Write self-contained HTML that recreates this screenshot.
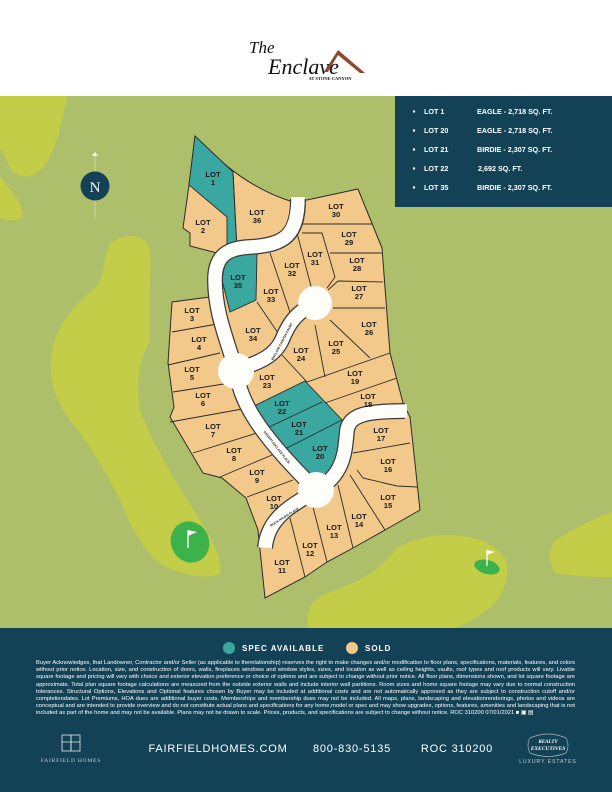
<!DOCTYPE html>
<html><head><meta charset="utf-8"><style>
html,body{margin:0;padding:0;width:612px;height:792px;overflow:hidden;background:#fff}
#w{position:relative;width:612px;height:792px}
svg{position:absolute;left:0;top:0}
.lot{font-family:"Liberation Sans",sans-serif;font-weight:bold;font-size:7.6px;fill:#1a1a1a;text-anchor:middle}
.lg{font-family:"Liberation Sans",sans-serif;font-weight:bold;font-size:7.2px;fill:#fff}
#disc{position:absolute;left:36px;top:660px;width:539px;font-family:"Liberation Sans",sans-serif;font-size:5.75px;line-height:7.2px;color:#fff;text-align:justify}
</style></head><body><div id="w">
<svg width="612" height="792" viewBox="0 0 612 792">
<!-- header logo -->
<text x="249" y="53" font-family="Liberation Serif,serif" font-style="italic" font-size="17" fill="#111">The</text>
<text x="268" y="74" font-family="Liberation Serif,serif" font-style="italic" font-size="22" fill="#111">Enclave</text>
<polygon points="324,72 338,50 365,73 360,73 338,55 328,72" fill="#8b4a2e"/>
<text x="330" y="80" font-family="Liberation Serif,serif" font-size="4.5" font-weight="bold" fill="#111" text-anchor="middle">AT STONE CANYON</text>
<!-- map bg -->
<rect x="0" y="96" width="612" height="532" fill="#adbf6b"/>
<path d="M0,96 L67,96 C62,125 55,150 45,165 C35,178 20,180 12,170 C6,160 3,150 0,149 Z" fill="#c3cd48"/>
<path d="M0,176 C10,190 20,200 23,213 C22,222 12,222 0,218 Z" fill="#c3cd48"/>
<path d="M110,243 C125,234 145,232 150,250 C152,270 148,300 150,340 C140,360 135,380 140,410 C150,440 175,480 200,520 C215,545 225,565 218,575 C200,580 170,572 156,560 C140,545 130,525 120,500 C100,460 85,440 70,420 C55,400 48,380 52,350 C58,320 80,300 97,286 C105,275 104,255 110,243 Z" fill="#c3cd48"/>
<path d="M308,628 C306,612 310,600 330,592 C360,582 380,570 395,550 C410,538 440,532 470,537 C500,545 510,560 507,575 C504,595 495,605 480,615 C470,622 460,626 455,628 Z" fill="#c3cd48"/>
<path d="M612,512 L612,577 C590,577 570,576 555,573 C548,560 548,548 556,540 C575,528 595,518 612,512 Z" fill="#c3cd48"/>
<ellipse cx="190" cy="542" rx="19" ry="21" transform="rotate(-25 190 542)" fill="#3db14a"/>
<line x1="188" y1="530" x2="188" y2="548" stroke="#fff" stroke-width="1.3"/>
<polygon points="188,530 197,532 188,536" fill="#fff"/>
<ellipse cx="487" cy="567" rx="13" ry="7" transform="rotate(15 487 567)" fill="#3db14a"/>
<line x1="487" y1="550" x2="487" y2="566" stroke="#fff" stroke-width="1.2"/>
<polygon points="487,550 495,552 487,555" fill="#fff"/>
<!-- compass -->
<line x1="95" y1="155" x2="95" y2="219" stroke="#d9e0b8" stroke-width="0.7"/>
<polygon points="92,156 95,152 98,156" fill="#fff"/>
<circle cx="95" cy="186" r="14.5" fill="#134257"/>
<text x="95" y="192" font-family="Liberation Serif,serif" font-size="15" fill="#fff" text-anchor="middle">N</text>
<!-- legend box -->
<rect x="395" y="96" width="217" height="111" fill="#134257"/>
<g class="lg">
<circle cx="414" cy="111.5" r="1.2" fill="#fff"/><text x="424" y="114">LOT 1</text><text x="477" y="114">EAGLE - 2,718 SQ. FT.</text>
<circle cx="414" cy="130.5" r="1.2" fill="#fff"/><text x="424" y="133">LOT 20</text><text x="477" y="133">EAGLE - 2,718 SQ. FT.</text>
<circle cx="414" cy="149.5" r="1.2" fill="#fff"/><text x="424" y="152">LOT 21</text><text x="477" y="152">BIRDIE - 2,307 SQ. FT.</text>
<circle cx="414" cy="168.5" r="1.2" fill="#fff"/><text x="424" y="171">LOT 22</text><text x="478" y="171">2,692 SQ. FT.</text>
<circle cx="414" cy="187.5" r="1.2" fill="#fff"/><text x="424" y="190">LOT 35</text><text x="477" y="190">BIRDIE - 2,307 SQ. FT.</text>
</g>
<!-- subdivision -->
<path d="M195,136 Q240,185 290,201 L307,200 L358,189 L382,248 L390,353 L403,403 L410,417 L420,510 L385,530 L353,548 L327,562 L305,577 L265,598 L258,530 L246,498 L222,478 L203,473 L170,417 L174,407 L168,363 L172,302 L217,296 L217,253 L190,246 L190,233 L183,228 L189,185 Z" fill="#f2c98a" stroke="#2b2b2b" stroke-width="1"/>
<g fill="#3aa8a0" stroke="#2b2b2b" stroke-width="0.9">
<polygon points="195,136 233,172 237,250 227,250 227,217 189,185"/>
<polygon points="227,250 257,253 256,300 230,312 222,280"/>
<polygon points="250,408 305,381 347,425 345,465 330,475 298,477"/>
</g>
<g stroke="#2b2b2b" stroke-width="0.9" fill="none">
<line x1="233" y1="172" x2="237" y2="250"/>
<line x1="303" y1="224" x2="372" y2="224"/>
<line x1="330" y1="253" x2="382" y2="253"/>
<polyline points="302,233 322,233 335,277 327,288"/>
<line x1="270" y1="253" x2="292" y2="318"/>
<line x1="297" y1="233" x2="312" y2="290"/>
<polyline points="383,282 338,281 328,290"/>
<line x1="333" y1="308" x2="385" y2="308"/>
<line x1="330" y1="320" x2="370" y2="358"/>
<line x1="315" y1="325" x2="325" y2="377"/>
<line x1="257" y1="302" x2="278" y2="333"/>
<line x1="282" y1="355" x2="307" y2="382"/>
<line x1="307" y1="382" x2="390" y2="353"/>
<line x1="325" y1="403" x2="397" y2="378"/>
<line x1="267" y1="428" x2="322" y2="402"/>
<line x1="283" y1="450" x2="342" y2="420"/>
<line x1="172" y1="332" x2="223" y2="323"/>
<line x1="168" y1="365" x2="220" y2="353"/>
<line x1="173" y1="392" x2="230" y2="383"/>
<line x1="170" y1="422" x2="248" y2="408"/>
<line x1="193" y1="453" x2="257" y2="433"/>
<line x1="220" y1="477" x2="272" y2="455"/>
<line x1="247" y1="497" x2="293" y2="480"/>
<line x1="353" y1="453" x2="410" y2="443"/>
<polyline points="357,470 363,478 397,486 417,487"/>
<line x1="350" y1="475" x2="385" y2="530"/>
<line x1="338" y1="485" x2="353" y2="548"/>
<line x1="313" y1="507" x2="327" y2="562"/>
<line x1="290" y1="518" x2="305" y2="577"/>
</g>
<!-- roads -->
<g fill="none" stroke-linecap="butt" stroke-linejoin="round">
<g stroke="#3a3a3a" stroke-width="16">
<path d="M298,199 C298,235 285,245 250,247 C225,248 215,258 215,280 C215,310 225,335 236,370 C240,400 255,430 316,490 C345,475 345,450 347,430 C350,415 365,411 405,411"/>
<path d="M316,490 C295,505 268,515 265,548"/>
<path d="M236,370 C262,362 275,355 282,340 C290,320 298,312 315,303"/>
</g>
<g stroke="#fdfdf9" stroke-width="13.5">
<path d="M298,197 C298,235 285,245 250,247 C225,248 215,258 215,280 C215,310 225,335 236,370 C240,400 255,430 316,490 C345,475 345,450 347,430 C350,415 365,411 407,411"/>
<path d="M316,490 C295,505 268,515 265,548"/>
<path d="M236,370 C262,362 275,355 282,340 C290,320 298,312 315,303"/>
</g>
</g>
<circle cx="236" cy="371" r="18" fill="#fdfdf9"/>
<circle cx="316" cy="490" r="18" fill="#fdfdf9"/>
<circle cx="315" cy="303" r="17" fill="#fdfdf9"/>
<g font-family="Liberation Sans,sans-serif" font-size="3.2" font-weight="bold" fill="#222" text-anchor="middle">
<text transform="translate(283,342) rotate(-62)">ENCLAVE CANYON COURT</text>
<text transform="translate(276,448) rotate(52)">DESERT ENCLAVE PLACE</text>
<text transform="translate(285,518) rotate(-32)">ROCK HAVEN PLACE</text>
</g>
<!-- lot labels -->
<g class="lot">
<text x="213" y="177">LOT<tspan x="213" dy="8">1</tspan></text>
<text x="203" y="225">LOT<tspan x="203" dy="8">2</tspan></text>
<text x="257" y="215">LOT<tspan x="257" dy="8">36</tspan></text>
<text x="336" y="209">LOT<tspan x="336" dy="8">30</tspan></text>
<text x="349" y="237">LOT<tspan x="349" dy="8">29</tspan></text>
<text x="357" y="263">LOT<tspan x="357" dy="8">28</tspan></text>
<text x="359" y="291">LOT<tspan x="359" dy="8">27</tspan></text>
<text x="315" y="257">LOT<tspan x="315" dy="8">31</tspan></text>
<text x="292" y="268">LOT<tspan x="292" dy="8">32</tspan></text>
<text x="238" y="280">LOT<tspan x="238" dy="8">35</tspan></text>
<text x="271" y="294">LOT<tspan x="271" dy="8">33</tspan></text>
<text x="253" y="333">LOT<tspan x="253" dy="8">34</tspan></text>
<text x="192" y="313">LOT<tspan x="192" dy="8">3</tspan></text>
<text x="199" y="342">LOT<tspan x="199" dy="8">4</tspan></text>
<text x="301" y="353">LOT<tspan x="301" dy="8">24</tspan></text>
<text x="336" y="346">LOT<tspan x="336" dy="8">25</tspan></text>
<text x="369" y="327">LOT<tspan x="369" dy="8">26</tspan></text>
<text x="192" y="372">LOT<tspan x="192" dy="8">5</tspan></text>
<text x="267" y="380">LOT<tspan x="267" dy="8">23</tspan></text>
<text x="355" y="376">LOT<tspan x="355" dy="8">19</tspan></text>
<text x="203" y="398">LOT<tspan x="203" dy="8">6</tspan></text>
<text x="282" y="406">LOT<tspan x="282" dy="8">22</tspan></text>
<text x="368" y="399">LOT<tspan x="368" dy="8">18</tspan></text>
<text x="213" y="429">LOT<tspan x="213" dy="8">7</tspan></text>
<text x="299" y="427">LOT<tspan x="299" dy="8">21</tspan></text>
<text x="381" y="433">LOT<tspan x="381" dy="8">17</tspan></text>
<text x="234" y="453">LOT<tspan x="234" dy="8">8</tspan></text>
<text x="320" y="451">LOT<tspan x="320" dy="8">20</tspan></text>
<text x="388" y="464">LOT<tspan x="388" dy="8">16</tspan></text>
<text x="257" y="475">LOT<tspan x="257" dy="8">9</tspan></text>
<text x="388" y="500">LOT<tspan x="388" dy="8">15</tspan></text>
<text x="274" y="501">LOT<tspan x="274" dy="8">10</tspan></text>
<text x="359" y="519">LOT<tspan x="359" dy="8">14</tspan></text>
<text x="334" y="530">LOT<tspan x="334" dy="8">13</tspan></text>
<text x="310" y="548">LOT<tspan x="310" dy="8">12</tspan></text>
<text x="282" y="565">LOT<tspan x="282" dy="8">11</tspan></text>
</g>
<!-- footer -->
<rect x="0" y="628" width="612" height="164" fill="#134257"/>
<circle cx="229" cy="648" r="6" fill="#3aa8a0"/>
<text x="242" y="651" font-family="Liberation Sans,sans-serif" font-weight="bold" font-size="8" letter-spacing="1" fill="#fff">SPEC AVAILABLE</text>
<circle cx="352" cy="648" r="6" fill="#f2c98a"/>
<text x="365" y="651" font-family="Liberation Sans,sans-serif" font-weight="bold" font-size="8" letter-spacing="1" fill="#fff">SOLD</text>
<g stroke="#e8e8e8" stroke-width="0.8" fill="none">
<rect x="62" y="735" width="9" height="16"/><rect x="71" y="735" width="9" height="16"/>
<line x1="62" y1="742" x2="80" y2="742"/>
</g>
<text x="71" y="762" font-family="Liberation Serif,serif" font-size="5.5" letter-spacing="0.8" fill="#c8ced3" text-anchor="middle">FAIRFIELD HOMES</text>
<g font-family="Liberation Sans,sans-serif" font-size="11" letter-spacing="0.8" fill="#fff" text-anchor="middle">
<text x="218" y="752">FAIRFIELDHOMES.COM</text>
<text x="352" y="752">800-830-5135</text>
<text x="457" y="752">ROC 310200</text>
</g>
<path d="M530,738 Q548,730 566,738 Q570,745 566,753 Q548,760 530,753 Q526,745 530,738 Z" fill="none" stroke="#aab5bd" stroke-width="0.7"/>
<text x="548" y="743" font-family="Liberation Serif,serif" font-style="italic" font-weight="bold" font-size="5" fill="#fff" text-anchor="middle">REALTY</text>
<text x="548" y="750" font-family="Liberation Serif,serif" font-style="italic" font-weight="bold" font-size="5.5" fill="#fff" text-anchor="middle">EXECUTIVES</text>
<text x="548" y="763" font-family="Liberation Sans,sans-serif" font-size="5" letter-spacing="1" fill="#c8ced3" text-anchor="middle">LUXURY ESTATES</text>
</svg>
<div id="disc">Buyer Acknowledges, that Landowner, Contractor and/or Seller (as applicable to therelationship) reserves the right to make changes and/or modification to floor plans, specifications, materials, features, and colors without prior notice. Location, size, and construction of doors, walls, fireplaces windows and window styles, sizes, and location as well as ceiling heights, vaults, roof types and roof products will vary. Livable square footage and pricing will vary with choice and exterior elevation preference or choice of options and are subject to change without prior notice. All floor plans, dimensions shown, and lot square footage are approximate. Total plan square footage calculations are measured from the outside exterior walls and include interior wall partitions. Room sizes and home square footage may vary due to normal construction tolerances. Structural Options, Elevations and Optional features chosen by Buyer may be included at additional costs and are not automatically approved as they are subject to construction cutoff and/or completiondates. Lot Premiums, HOA dues are additional buyer costs. Memberships and membership dues may not be included. All maps, plans, landscaping and elevationrenderings, photos and videos are conceptual and are intended to provide overview and do not constitute actual plans and specifications for any home,model or spec and may show upgrades, options, features, amenities and landscaping that is not included as part of the home and may not be available. Plans may not be drawn to scale. Prices, products, and specifications are subject to change without notice. ROC 310200 07/01/2021 ■ ▣ ▤</div>
</div></body></html>
